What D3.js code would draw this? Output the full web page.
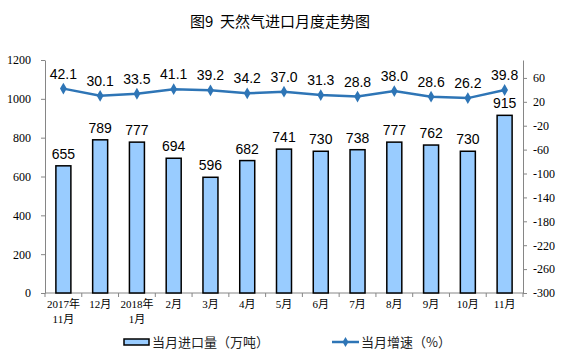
<!DOCTYPE html>
<html><head><meta charset="utf-8">
<script src="https://cdn.jsdelivr.net/npm/d3@7"></script>
<style>body{margin:0;background:#fff}</style>
</head><body>
<svg id="c" width="561" height="357"></svg>
<script>
const categories = [["2017年","11月"],["12月"],["2018年","1月"],["2月"],["3月"],["4月"],["5月"],["6月"],["7月"],["8月"],["9月"],["10月"],["11月"]];
const imports = [655, 789, 777, 694, 596, 682, 741, 730, 738, 777, 762, 730, 915];
const growth = [42.1, 30.1, 33.5, 41.1, 39.2, 34.2, 37.0, 31.3, 28.8, 38.0, 28.6, 26.2, 39.8];
const leftTicks = [0, 200, 400, 600, 800, 1000, 1200];
const rightTicks = [-300, -260, -220, -180, -140, -100, -60, -20, 20, 60];
const title = "图9\u00a0\u00a0天然气进口月度走势图";
const legendBar = "当月进口量（万吨）";
const legendLine = "当月增速（%）";

const svg = d3.select("#c");
const L = 45, R = 523, T = 60, B = 293;
const idx = d3.range(categories.length);
const xb = d3.scaleBand().domain(idx).range([L, R]);
const yL = d3.scaleLinear().domain([0, 1200]).range([B, T]);
const yR = d3.scaleLinear().domain([-300, 90]).range([B, T]);

const serif = "'Liberation Serif','Times New Roman','Noto Sans CJK SC',serif";
const sans = "'Liberation Sans',Arial,sans-serif";
const cjk = "'Noto Sans CJK SC',sans-serif";

svg.append("text").attr("x", 280).attr("y", 27).attr("text-anchor", "middle")
  .attr("font-family", cjk).attr("font-size", 15).attr("font-weight", "normal").attr("fill", "#000").text(title);

// left axis
const gl = svg.append("g").attr("transform", `translate(${L},0)`)
  .call(d3.axisLeft(yL).tickValues(leftTicks).tickFormat(d => String(d)).tickSize(4).tickSizeOuter(0).tickPadding(10));
gl.select(".domain").attr("stroke", "#868686");
gl.selectAll(".tick line").attr("stroke", "#868686");
gl.selectAll(".tick text").attr("font-family", serif).attr("font-size", 12).attr("fill", "#000");

// right axis
const gr = svg.append("g").attr("transform", `translate(${R},0)`)
  .call(d3.axisRight(yR).tickValues(rightTicks).tickFormat(d => String(d)).tickSize(4).tickSizeOuter(0).tickPadding(6));
gr.select(".domain").attr("stroke", "#868686");
gr.selectAll(".tick line").attr("stroke", "#868686");
gr.selectAll(".tick text").attr("font-family", serif).attr("font-size", 12).attr("fill", "#000");

// bottom axis line and ticks between categories
svg.append("line").attr("x1", L).attr("x2", R).attr("y1", B).attr("y2", B).attr("stroke", "#868686");
svg.selectAll(".xt").data(d3.range(categories.length + 1)).enter().append("line")
  .attr("x1", d => L + d * xb.step()).attr("x2", d => L + d * xb.step())
  .attr("y1", B).attr("y2", B + 4).attr("stroke", "#868686");

// category labels
const cl = svg.selectAll(".cl").data(categories).enter().append("text")
  .attr("x", (d, i) => xb(i) + xb.bandwidth() / 2).attr("y", 308)
  .attr("text-anchor", "middle").attr("font-family", serif).attr("font-size", 11).attr("fill", "#000");
cl.each(function(d, i) {
  d.forEach((s, k) => d3.select(this).append("tspan")
    .attr("x", xb(i) + xb.bandwidth() / 2).attr("dy", k ? 15 : 0).text(s));
});

// bars
svg.selectAll(".bar").data(imports).enter().append("rect")
  .attr("x", (d, i) => xb(i) + xb.bandwidth() / 2 - 7.5).attr("width", 15)
  .attr("y", d => yL(d)).attr("height", d => B - yL(d))
  .attr("fill", "#99CCFF").attr("stroke", "#000").attr("stroke-width", 1.5);
svg.selectAll(".bl").data(imports).enter().append("text")
  .attr("x", (d, i) => xb(i) + xb.bandwidth() / 2).attr("y", d => yL(d) - 7)
  .attr("text-anchor", "middle").attr("font-family", sans).attr("font-size", 14).attr("fill", "#000").text(d => d);

// line
const line = d3.line().x((d, i) => xb(i) + xb.bandwidth() / 2).y(d => yR(d));
svg.append("path").datum(growth).attr("d", line).attr("fill", "none").attr("stroke", "#2E75B6").attr("stroke-width", 2.5);
svg.selectAll(".pt").data(growth).enter().append("path")
  .attr("d", d3.symbol().type(d3.symbolDiamond).size(40))
  .attr("transform", (d, i) => `translate(${xb(i) + xb.bandwidth() / 2},${yR(d)})`)
  .attr("fill", "#2E75B6");
svg.selectAll(".gl").data(growth).enter().append("text")
  .attr("x", (d, i) => xb(i) + xb.bandwidth() / 2).attr("y", d => yR(d) - 10)
  .attr("text-anchor", "middle").attr("font-family", sans).attr("font-size", 14).attr("fill", "#000").text(d => d.toFixed(1));

// legend
svg.append("rect").attr("x", 124).attr("y", 339).attr("width", 25).attr("height", 6)
  .attr("fill", "#99CCFF").attr("stroke", "#000").attr("stroke-width", 1.5);
svg.append("text").attr("x", 152).attr("y", 347).attr("font-family", cjk).attr("font-size", 13).attr("fill", "#222").text(legendBar);
svg.append("line").attr("x1", 332).attr("x2", 359).attr("y1", 342).attr("y2", 342).attr("stroke", "#2E75B6").attr("stroke-width", 2.5);
svg.append("path").attr("d", d3.symbol().type(d3.symbolDiamond).size(30)).attr("transform", "translate(345.5,342)").attr("fill", "#2E75B6");
svg.append("text").attr("x", 361).attr("y", 347).attr("font-family", cjk).attr("font-size", 13).attr("fill", "#222").text(legendLine);
</script>
</body></html>
